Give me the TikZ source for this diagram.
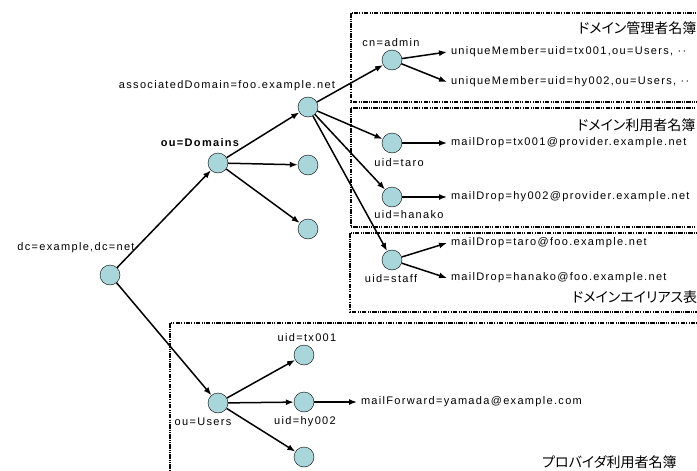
\documentclass[tikz,border=0pt]{standalone}
\usepackage{fontspec}
\setmainfont{Liberation Sans}[LetterSpace=12]
\newfontfamily\jpfont{Noto Sans CJK JP}[RawFeature=+palt]
\usetikzlibrary{arrows.meta}
\definecolor{entry}{RGB}{168,214,218}

\begin{document}
\begin{tikzpicture}[x=1pt,y=-1pt,font=\fontsize{11}{13}\selectfont]
\useasboundingbox (0,0) rectangle (697,471);
\clip (0,0) rectangle (697,471);
\tikzstyle{dot}=[draw,fill=entry,shape=circle,minimum size=20pt,inner sep=0pt];
\tikzstyle{lbl}=[inner sep=0pt];
\tikzstyle{val}=[anchor=west,inner sep=0pt,outer sep=4pt];
\tikzstyle{title}=[anchor=west,inner sep=0pt,font=\jpfont\fontsize{14}{16}\selectfont];
\tikzstyle{book}=[line width=1.1pt,dash pattern=on 4.5pt off 1.2pt on 1pt off 1.2pt on 1pt off 1.2pt];
\tikzstyle{link}=[-{Latex[length=8pt,width=6pt]},line width=1.5pt];
% directory boxes
\draw[book] (351,13) rectangle (710,102);
\draw[book] (351,108) rectangle (710,227);
\draw[book] (350,233) rectangle (710,312);
\draw[book] (170,323) rectangle (710,490);
\node[title] (t1) at (578,28) {ドメイン管理者名簿};
\node[title] (t2) at (577,125) {ドメイン利用者名簿};
\node[title] (t3) at (572,297) {ドメインエイリアス表};
\node[title] (t4) at (542,462) {プロバイダ利用者名簿};
% entries
\node[dot] (root) at (110,275) {};
\node[dot] (domains) at (218,163) {};
\node[dot] (foo) at (308,107) {};
\node[dot] (d2) at (308,165) {};
\node[dot] (d3) at (308,229) {};
\node[dot] (admin) at (392,60) {};
\node[dot] (taro) at (392,143) {};
\node[dot] (hanako) at (392,197) {};
\node[dot] (staff) at (392,260) {};
\node[dot] (users) at (218,403) {};
\node[dot] (tx) at (304,355) {};
\node[dot] (hy) at (304,402) {};
\node[dot] (u3) at (304,457) {};
% entry names
\node[lbl] (lroot) at (76,248) {dc=example,dc=net};
\node[lbl] (ldomains) at (200,143) {\bfseries ou=Domains};
\node[lbl] (lfoo) at (227,86) {associatedDomain=foo.example.net};
\node[lbl] (ladmin) at (391,43) {cn=admin};
\node[lbl] (ltaro) at (399,163) {uid=taro};
\node[lbl] (lhanako) at (409,215) {uid=hanako};
\node[lbl] (lstaff) at (391,279) {uid=staff};
\node[lbl] (lusers) at (203,422) {ou=Users};
\node[lbl] (ltx) at (307,338) {uid=tx001};
\node[lbl] (lhy) at (305,422) {uid=hy002};
% attribute values
\node[val] (um1) at (447,52) {uniqueMember=uid=tx001,ou=Users, ··};
\node[val] (um2) at (447,82) {uniqueMember=uid=hy002,ou=Users, ··};
\node[val] (md1) at (447,143) {mailDrop=tx001@provider.example.net};
\node[val] (md2) at (447,197) {mailDrop=hy002@provider.example.net};
\node[val] (ma1) at (447,243) {mailDrop=taro@foo.example.net};
\node[val] (ma2) at (447,278) {mailDrop=hanako@foo.example.net};
\node[val] (mf) at (357,402) {mailForward=yamada@example.com};
\foreach \from/\to in {root/domains, root/users, domains/foo, domains/d2, domains/d3,
    foo/admin, foo/taro, foo/hanako, foo/staff, users/tx, users/hy, users/u3}
    \draw [link] (\from) -- (\to);
\foreach \from/\to in {admin/um1, admin/um2, taro/md1, hanako/md2, staff/ma1, staff/ma2, hy/mf}
    \draw [link] (\from) -- (\to.west);
\end{tikzpicture}
\end{document}
